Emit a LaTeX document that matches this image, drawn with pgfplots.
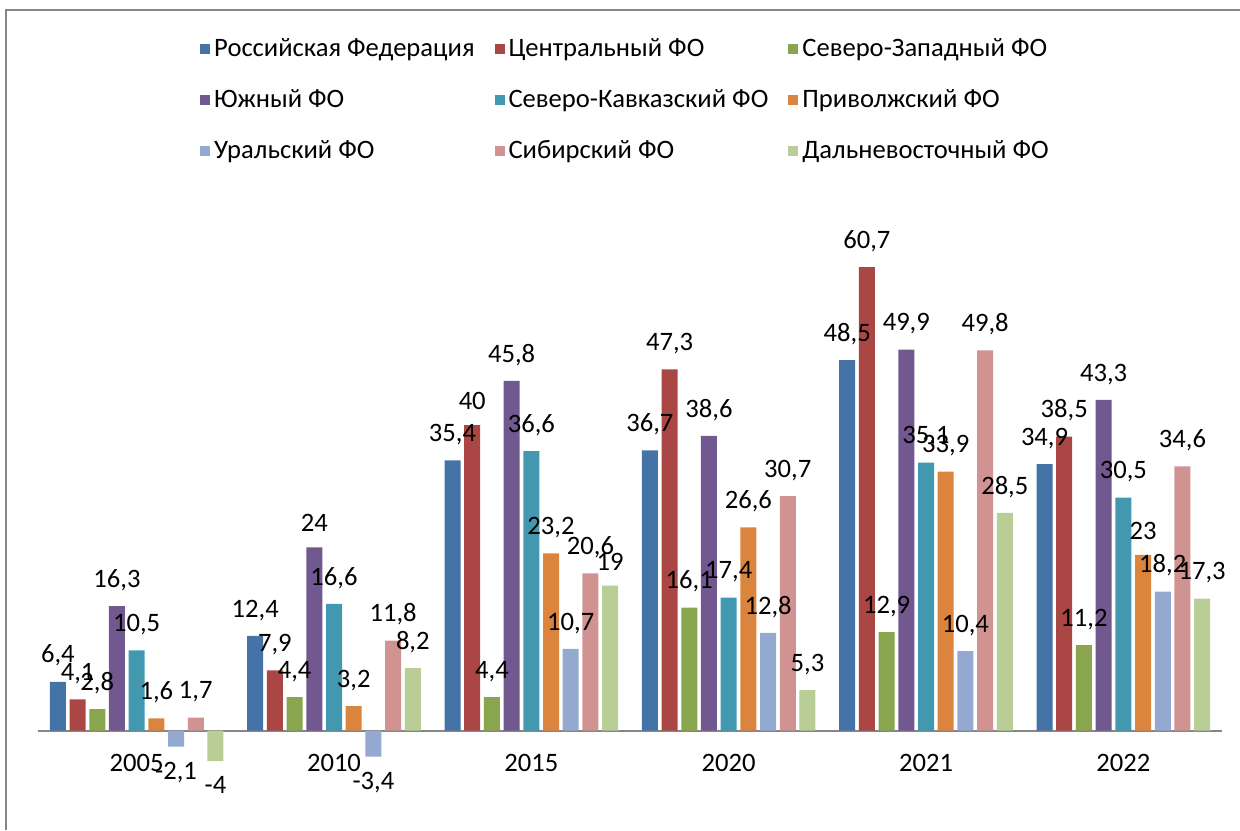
\documentclass[border=0pt]{standalone}
\usepackage{pgfplots}
\pgfplotsset{compat=1.18}
\usepackage{fontspec}
\setmainfont{Carlito}
\definecolor{cRF}{RGB}{69,114,167}
\definecolor{cCF}{RGB}{170,70,67}
\definecolor{cNW}{RGB}{137,165,78}
\definecolor{cSF}{RGB}{113,88,143}
\definecolor{cNC}{RGB}{65,152,175}
\definecolor{cVF}{RGB}{219,132,61}
\definecolor{cUF}{RGB}{147,169,207}
\definecolor{cSB}{RGB}{209,147,146}
\definecolor{cFE}{RGB}{185,205,150}
\definecolor{cAx}{RGB}{134,134,134}
\begin{document}
\begin{tikzpicture}
\begin{axis}[
  scale only axis, width=592pt, height=305.5pt,
  xmin=-0.5, xmax=5.5, ymin=-10, ymax=70,
  enlargelimits=false,
  axis x line*=middle, axis y line=none,
  x axis line style={draw=cAx, line width=1pt},
  ybar=1.85pt, bar width=8pt,
  xtick={0,1,2,3,4,5},
  xticklabels={2005,2010,2015,2020,2021,2022},
  major tick length=0pt,
  xticklabel style={font=\fontsize{13.3}{16}\selectfont, yshift=-8.5pt},
  /pgf/number format/assume math mode=true,
  /pgf/number format/use comma,
  nodes near coords,
  every node near coord/.append style={font=\fontsize{13.3}{16}\selectfont, inner xsep=0pt, inner ysep=7.5pt, text=black},
  legend columns=3,
  legend image code/.code={\fill[#1] (0pt,-2.5pt) rectangle (5pt,2.5pt);},
  legend style={at={(0.497,1.272)}, anchor=north, draw=none, fill=none,
    font=\fontsize{13.3}{16}\selectfont, row sep=11pt, column sep=0pt,
    /tikz/every even column/.append style={column sep=8pt}},
  legend cell align=left,
]
\addplot[fill=cRF, draw=none] coordinates {(0,6.4) (1,12.4) (2,35.4) (3,36.7) (4,48.5) (5,34.9)};
\addplot[fill=cCF, draw=none] coordinates {(0,4.1) (1,7.9) (2,40) (3,47.3) (4,60.7) (5,38.5)};
\addplot[fill=cNW, draw=none] coordinates {(0,2.8) (1,4.4) (2,4.4) (3,16.1) (4,12.9) (5,11.2)};
\addplot[fill=cSF, draw=none] coordinates {(0,16.3) (1,24) (2,45.8) (3,38.6) (4,49.9) (5,43.3)};
\addplot[fill=cNC, draw=none] coordinates {(0,10.5) (1,16.6) (2,36.6) (3,17.4) (4,35.1) (5,30.5)};
\addplot[fill=cVF, draw=none] coordinates {(0,1.6) (1,3.2) (2,23.2) (3,26.6) (4,33.9) (5,23)};
\addplot[fill=cUF, draw=none] coordinates {(0,-2.1) (1,-3.4) (2,10.7) (3,12.8) (4,10.4) (5,18.2)};
\addplot[fill=cSB, draw=none] coordinates {(0,1.7) (1,11.8) (2,20.6) (3,30.7) (4,49.8) (5,34.6)};
\addplot[fill=cFE, draw=none] coordinates {(0,-4) (1,8.2) (2,19) (3,5.3) (4,28.5) (5,17.3)};
\legend{Российская Федерация, Центральный ФО, Северо-Западный ФО, Южный ФО, Северо-Кавказский ФО, Приволжский ФО, Уральский ФО, Сибирский ФО, Дальневосточный ФО}
\end{axis}
\draw[cAx, line width=1pt] (-16pt,-11.5pt) -- (-16pt,398.5pt) -- (601pt,398.5pt);
\pgfresetboundingbox
\useasboundingbox (-19pt,-11.5pt) rectangle (601pt,403.5pt);
\end{tikzpicture}
\end{document}
